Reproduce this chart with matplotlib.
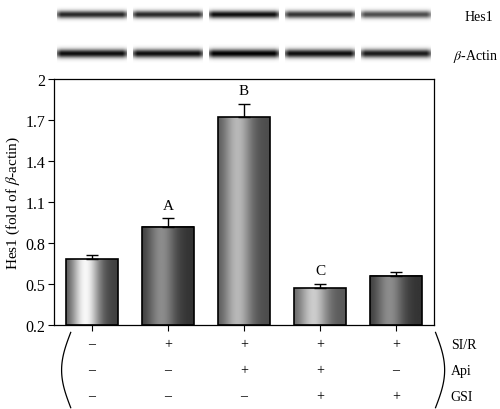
import numpy as np
import matplotlib
matplotlib.use("Agg")
import matplotlib.pyplot as plt

plt.rcParams['font.family'] = ['Liberation Serif', 'DejaVu Serif']
plt.rcParams['mathtext.fontset'] = 'stix'

values = [0.68, 0.92, 1.72, 0.47, 0.56]
errors = [0.03, 0.06, 0.10, 0.03, 0.03]
letters = ['', 'A', 'B', 'C', '']
yticks = [0.2, 0.5, 0.8, 1.1, 1.4, 1.7, 2]
rows = ['SI/R', 'Api', 'GSI']
signs = [['–', '+', '+', '+', '+'],
         ['–', '–', '+', '+', '–'],
         ['–', '–', '–', '+', '+']]
# gradient light/dark per bar (center, edge)
shades = [(0.97, 0.25), (0.55, 0.2), (0.72, 0.3), (0.8, 0.35), (0.55, 0.2)]
hes_int = [0.85, 0.85, 0.95, 0.8, 0.7]
act_int = [0.95, 0.95, 1.0, 0.95, 0.9]

fig = plt.figure(figsize=(5, 4.1), dpi=100)
ax = fig.add_axes([0.108, 0.205, 0.76, 0.6])
x = np.arange(len(values))
w = 0.68
for i, (v, e) in enumerate(zip(values, errors)):
    c, d = shades[i]
    t = np.linspace(-1, 1, 200)
    prof = d + (c - d) * np.exp(-((t + 0.25) / 0.55) ** 2)
    img = np.tile(prof, (2, 1))
    ax.imshow(img, cmap='gray', vmin=0, vmax=1, aspect='auto',
              extent=[i - w / 2, i + w / 2, 0.2, v], zorder=2, interpolation='bilinear')
    ax.add_patch(plt.Rectangle((i - w / 2, 0.2), w, v - 0.2, fill=False, ec='black', lw=1.2, zorder=3))
    ax.errorbar(i, v, yerr=[[0], [e]], fmt='none', ecolor='black', capsize=4, lw=1, zorder=4)
    if letters[i]:
        ax.text(i, v + e + 0.05, letters[i], ha='center', va='bottom', fontsize=11)
ax.set_aspect('auto')
ax.set_xlim(-0.5, 4.5)
ax.set_ylim(0.2, 2.0)
ax.set_yticks(yticks)
ax.set_yticklabels(['0.2', '0.5', '0.8', '1.1', '1.4', '1.7', '2'], fontsize=11.5)
ax.set_xticks(x)
ax.set_xticklabels([])
ax.tick_params(axis='x', direction='out', length=4)
ax.tick_params(axis='y', direction='out', length=4, pad=2)
ax.set_ylabel(r'Hes1 (fold of $\beta$-actin)', fontsize=11, labelpad=3)
for s in ax.spines.values():
    s.set_linewidth(0.9)

# treatment table
tab = fig.add_axes([0.108, 0.0, 0.76, 0.19])
tab.set_xlim(-0.5, 4.5)
tab.set_ylim(3, 0)
tab.axis('off')
for r, name in enumerate(rows):
    for i in range(5):
        tab.text(i, r + 0.5, signs[r][i], ha='center', va='center', fontsize=10)
    tab.text(4.72, r + 0.5, name, ha='left', va='center', fontsize=10, clip_on=False)
# thin brackets
tt = np.linspace(0, 1, 60)
bx = 0.12 * np.sin(np.pi * tt)
by = 0.05 + 2.9 * tt
tab.plot(-0.28 - bx, by, color='black', lw=0.9, clip_on=False)
tab.plot(4.52 + bx, by, color='black', lw=0.9, clip_on=False)

# western blot
blot = fig.add_axes([0.108, 0.82, 0.76, 0.18])
blot.set_xlim(-0.5, 4.5)
blot.set_ylim(0, 1)
blot.axis('off')
for i in range(5):
    for yc, amp, hw in [(0.79, hes_int[i], 0.07), (0.26, act_int[i], 0.08)]:
        xs = np.linspace(-1, 1, 120)
        ys = np.linspace(-1, 1, 40)
        X, Y = np.meshgrid(xs, ys)
        band = amp * np.exp(-(Y / 0.45) ** 2) * np.clip(1.6 - np.abs(X) ** 4, 0, 1)
        blot.imshow(1 - band, cmap='gray', vmin=0, vmax=1, aspect='auto',
                    extent=[i - 0.46, i + 0.46, yc - hw * 1.6, yc + hw * 1.6], interpolation='bilinear')
blot.set_xlim(-0.5, 4.5)
blot.set_ylim(0, 1)
blot.text(4.9, 0.76, 'Hes1', ha='left', va='center', fontsize=10, clip_on=False)
blot.text(4.75, 0.24, r'$\beta$-Actin', ha='left', va='center', fontsize=10, clip_on=False)

fig.savefig('out.png', dpi=100)
